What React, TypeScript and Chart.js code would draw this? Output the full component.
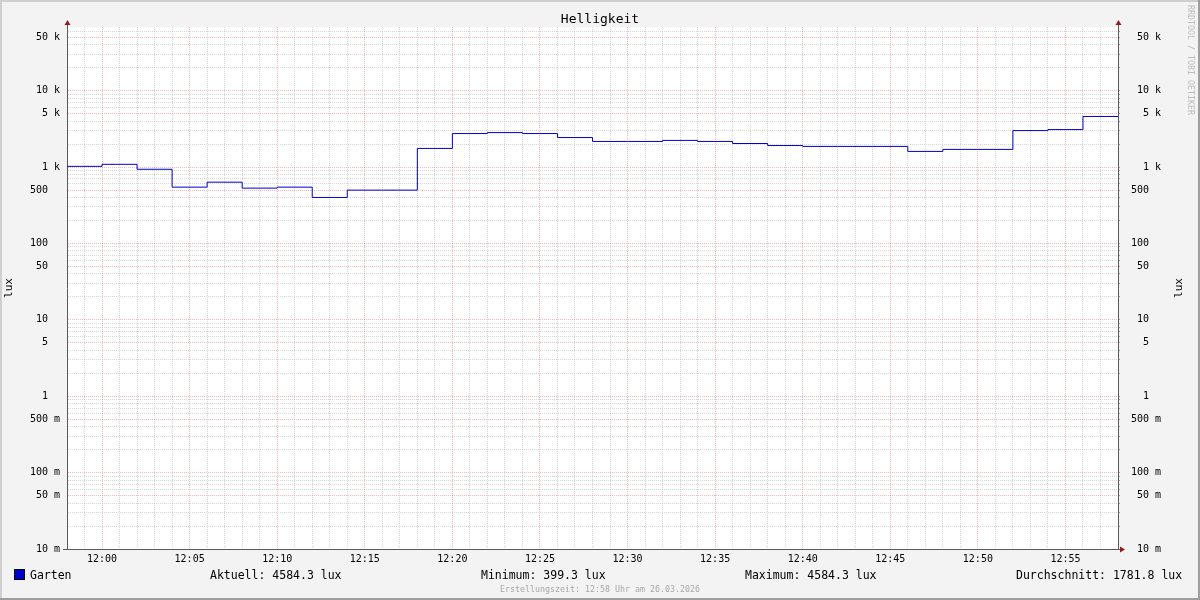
import React, { useEffect, useRef } from "react";
import { Chart, registerables } from "chart.js";

Chart.register(...registerables);

// ---------- data ----------
const TITLE = "Helligkeit";
const UNIT = "lux";
const SERIES_NAME = "Garten";
const startTimes = [
  "11:58", "12:00", "12:02", "12:04", "12:06", "12:08", "12:10", "12:12", "12:14", "12:16",
  "12:18", "12:20", "12:22", "12:24", "12:26", "12:28", "12:30", "12:32", "12:34", "12:36",
  "12:38", "12:40", "12:42", "12:44", "12:46", "12:48", "12:50", "12:52", "12:54", "12:56",
];
const endTime = "12:58";
const luxValues = [
  1020, 1084, 934, 545, 633, 529, 545, 399.3, 498, 498,
  1750, 2740, 2820, 2740, 2430, 2160, 2160, 2230, 2160, 2030,
  1910, 1860, 1860, 1860, 1600, 1700, 1700, 2995, 3090, 4584.3,
];
const summaryLabels = ["Aktuell", "Minimum", "Maximum", "Durchschnitt"];
const summaryValues = ["4584.3", "399.3", "4584.3", "1781.8"];
const FOOTER = "Erstellungszeit: 12:58 Uhr am 26.03.2026";
const WATERMARK = "RRDTOOL / TOBI OETIKER";
const yMin = 0.01;
const yMax = 68000;
const yMantissas = [1, 2, 3, 4, 5, 6, 7, 8, 9];
const yDecades = [-2, -1, 0, 1, 2, 3, 4];

// ---------- helpers ----------
const FONT = "'DejaVu Sans Mono', monospace";
const LINE_COLOR = "#0000CC";
const AXIS_COLOR = "#5a5a5a";
const ARROW_COLOR = "#8f1f1f";
const MINOR_GRID = "rgba(160,160,160,0.42)";
const MAJOR_GRID = "rgba(225,100,100,0.45)";

const toMin = (s: string) => {
  const [h, m] = s.split(":").map(Number);
  return h * 60 + m;
};
const fmtMin = (v: number) => {
  const h = Math.floor(v / 60);
  const m = v % 60;
  return `${String(h).padStart(2, "0")}:${String(m).padStart(2, "0")}`;
};

const yTickValues: number[] = [];
yDecades.forEach((e) =>
  yMantissas.forEach((m) => {
    const v = Number((m * Math.pow(10, e)).toPrecision(3));
    if (v >= yMin && v <= yMax) yTickValues.push(v);
  })
);
const mantissa = (v: number) => {
  const e = Math.floor(Math.log10(v) + 1e-9);
  return Math.round(v / Math.pow(10, e));
};
const isMajorY = (v: number) => {
  const m = mantissa(v);
  return m === 1 || m === 5;
};
const yLabel = (v: number) => {
  if (!isMajorY(v)) return "";
  let s: string;
  if (v >= 1000) s = `${Math.round(v / 1000)} k`;
  else if (v >= 1) s = `${Math.round(v)}  `;
  else s = `${Math.round(v * 1000)} m`;
  return s.padStart(5, " ");
};

const xStart = toMin(startTimes[0]);
const xEnd = toMin(endTime);
const xTickValues: number[] = [];
for (let t = xStart; t <= xEnd; t++) xTickValues.push(t);

const framePlugin = {
  id: "rrdframe",
  beforeDraw(chart: any) {
    const { ctx, width, height, chartArea: a } = chart;
    ctx.save();
    ctx.fillStyle = "#f3f3f3";
    ctx.fillRect(0, 0, width, height);
    ctx.fillStyle = "#ffffff";
    ctx.fillRect(a.left, a.top, a.right - a.left, a.bottom - a.top);
    ctx.fillStyle = "#cfcfcf";
    ctx.fillRect(0, 0, width, 2);
    ctx.fillRect(0, 0, 2, height);
    ctx.fillStyle = "#9e9e9e";
    ctx.fillRect(width - 2, 0, 2, height);
    ctx.fillRect(0, height - 2, width, 2);
    ctx.restore();
  },
  afterDraw(chart: any) {
    const { ctx, width, chartArea: a } = chart;
    ctx.save();
    // axis extensions and arrows
    ctx.strokeStyle = AXIS_COLOR;
    ctx.lineWidth = 1;
    ctx.beginPath();
    ctx.moveTo(a.left + 0.5, a.top);
    ctx.lineTo(a.left + 0.5, a.top - 3);
    ctx.moveTo(a.right + 0.5, a.top);
    ctx.lineTo(a.right + 0.5, a.top - 3);
    ctx.moveTo(a.left - 4, a.bottom + 0.5);
    ctx.lineTo(a.right + 3, a.bottom + 0.5);
    ctx.stroke();
    ctx.fillStyle = ARROW_COLOR;
    const upArrow = (x: number) => {
      ctx.beginPath();
      ctx.moveTo(x - 2.5, a.top - 2);
      ctx.lineTo(x + 3.5, a.top - 2);
      ctx.lineTo(x + 0.5, a.top - 7);
      ctx.closePath();
      ctx.fill();
    };
    upArrow(a.left);
    upArrow(a.right);
    ctx.beginPath();
    ctx.moveTo(a.right + 2, a.bottom - 2.5);
    ctx.lineTo(a.right + 2, a.bottom + 3.5);
    ctx.lineTo(a.right + 7, a.bottom + 0.5);
    ctx.closePath();
    ctx.fill();

    // title
    ctx.fillStyle = "#000";
    ctx.textBaseline = "middle";
    ctx.textAlign = "center";
    ctx.font = `13px ${FONT}`;
    ctx.fillText(TITLE, width / 2, 20);

    // vertical axis labels
    ctx.font = `11px ${FONT}`;
    const vtext = (x: number, y: number, t: string) => {
      ctx.save();
      ctx.translate(x, y);
      ctx.rotate(-Math.PI / 2);
      ctx.textAlign = "center";
      ctx.fillText(t, 0, 0);
      ctx.restore();
    };
    const midY = (a.top + a.bottom) / 2;
    vtext(9, midY, UNIT);
    vtext(1179, midY, UNIT);

    // legend
    const ly = 576;
    ctx.fillStyle = LINE_COLOR;
    ctx.fillRect(15, 570, 9, 9);
    ctx.strokeStyle = "#000";
    ctx.strokeRect(14.5, 569.5, 10, 10);
    ctx.fillStyle = "#000";
    ctx.font = `11.5px ${FONT}`;
    ctx.textAlign = "left";
    ctx.fillText(SERIES_NAME, 30, ly);
    const positions = [210, 481, 745, 1016];
    summaryLabels.forEach((l, i) => {
      ctx.fillText(`${l}: ${summaryValues[i]} ${UNIT}`, positions[i], ly);
    });

    // footer
    ctx.fillStyle = "#a8a8a8";
    ctx.font = `8.3px ${FONT}`;
    ctx.textAlign = "center";
    ctx.fillText(FOOTER, width / 2, 590);

    // watermark
    ctx.save();
    ctx.translate(1190, 5);
    ctx.rotate(Math.PI / 2);
    ctx.textAlign = "left";
    ctx.fillStyle = "#bdbdbd";
    ctx.font = `8.3px ${FONT}`;
    ctx.fillText(WATERMARK, 0, 0);
    ctx.restore();

    ctx.restore();
  },
};

export default function App() {
  const canvasRef = useRef<HTMLCanvasElement | null>(null);

  useEffect(() => {
    document.body.style.margin = "0";
    const canvas = canvasRef.current;
    if (!canvas) return;

    const points = startTimes.map((t, i) => ({ x: toMin(t), y: luxValues[i] }));
    points.push({ x: toMin(endTime), y: luxValues[luxValues.length - 1] });

    const yGridColor = (c: any) =>
      c.tick && isMajorY(c.tick.value) ? MAJOR_GRID : MINOR_GRID;

    const chart = new Chart(canvas, {
      type: "line",
      data: {
        datasets: [
          {
            label: SERIES_NAME,
            data: points,
            borderColor: LINE_COLOR,
            backgroundColor: LINE_COLOR,
            borderWidth: 1,
            pointRadius: 0,
            pointHoverRadius: 0,
            stepped: "before",
            fill: false,
            yAxisID: "y",
          },
        ],
      },
      options: {
        responsive: false,
        maintainAspectRatio: false,
        animation: false,
        devicePixelRatio: 1,
        events: [],
        layout: { padding: { top: 27, left: 0, right: 0, bottom: 0 } },
        plugins: {
          legend: { display: false },
          title: { display: false },
          tooltip: { enabled: false },
        },
        scales: {
          x: {
            type: "linear",
            min: xStart,
            max: xEnd,
            afterBuildTicks: (s: any) => {
              s.ticks = xTickValues.map((v) => ({ value: v }));
            },
            afterFit: (s: any) => {
              s.height = 51;
            },
            ticks: {
              autoSkip: false,
              maxRotation: 0,
              minRotation: 0,
              padding: 4,
              color: "#000",
              font: { family: FONT, size: 10 },
              callback: (v: any) => (Number(v) % 5 === 0 ? fmtMin(Number(v)) : ""),
            },
            grid: {
              color: (c: any) =>
                c.tick && c.tick.value % 5 === 0 ? MAJOR_GRID : MINOR_GRID,
              lineWidth: 1,
              drawTicks: false,
            },
            border: { display: true, color: AXIS_COLOR, width: 1, dash: [1, 1] },
          },
          y: {
            type: "logarithmic",
            position: "left",
            min: yMin,
            max: yMax,
            afterBuildTicks: (s: any) => {
              s.ticks = yTickValues.map((v) => ({ value: v }));
            },
            afterFit: (s: any) => {
              s.width = 67;
            },
            ticks: {
              autoSkip: false,
              padding: 7,
              color: "#000",
              font: { family: FONT, size: 10 },
              callback: (v: any) => yLabel(Number(v)),
            },
            grid: {
              color: yGridColor,
              lineWidth: 1,
              drawTicks: false,
            },
            border: { display: true, color: AXIS_COLOR, width: 1, dash: [1, 1] },
          },
          y2: {
            type: "logarithmic",
            position: "right",
            min: yMin,
            max: yMax,
            afterBuildTicks: (s: any) => {
              s.ticks = yTickValues.map((v) => ({ value: v }));
            },
            afterFit: (s: any) => {
              s.width = 82;
            },
            ticks: {
              autoSkip: false,
              padding: 11,
              crossAlign: "near",
              color: "#000",
              font: { family: FONT, size: 10 },
              callback: (v: any) => yLabel(Number(v)),
            },
            grid: {
              drawOnChartArea: false,
              drawTicks: true,
              tickLength: 2,
              tickColor: "#a0a0a0",
              lineWidth: 1,
            },
            border: { display: true, color: AXIS_COLOR, width: 1 },
          },
        },
      } as any,
      plugins: [framePlugin],
    });

    return () => chart.destroy();
  }, []);

  return (
    <div style={{ width: 1200, height: 600 }}>
      <canvas ref={canvasRef} width={1200} height={600} style={{ display: "block" }} />
    </div>
  );
}
